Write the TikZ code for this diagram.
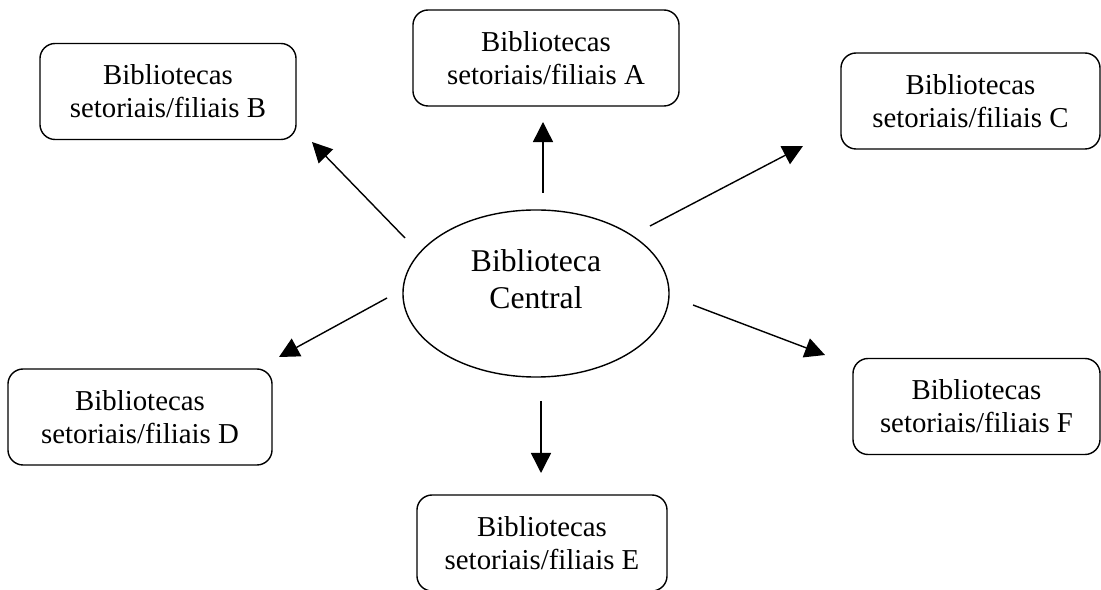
\documentclass[tikz,border=0pt]{standalone}
\usepackage{fontspec}
\setmainfont{Liberation Serif}
\usepackage{tikz}
\usetikzlibrary{shapes.geometric}
\usetikzlibrary{arrows.meta}
\usetikzlibrary{calc}

\tikzset{
  filial/.style={draw, line width=1pt, rounded corners=0.38cm, align=center,
    minimum height=2.4cm, inner sep=0pt,
    font=\fontsize{20.5pt}{23.5pt}\selectfont},
  arr/.style={line width=1pt, -{Triangle[length=0.5cm,width=0.5cm]}}
}

\begin{document}
\begin{tikzpicture}[x=0.025cm,y=-0.025cm]
\useasboundingbox (0,0) rectangle (1101,590);
% centre
  \node (central) [draw, ellipse, line width=1pt, minimum width=6.65cm, minimum height=4.175cm, inner sep=0pt] at (536,293.5) {};
  \node (centraltext) [align=center, font=\fontsize{22.5pt}{26.3pt}\selectfont] at ($(central)+(0,-14)$) {Biblioteca\\Central};
% branch libraries
  \node (a) [filial, minimum width=6.65cm] at (546,58) {Bibliotecas\\setoriais/filiais A};
  \node (b) [filial, minimum width=6.4cm] at (168,91.5) {Bibliotecas\\setoriais/filiais B};
  \node (c) [filial, minimum width=6.475cm] at (970.5,101) {Bibliotecas\\setoriais/filiais C};
  \node (d) [filial, minimum width=6.6cm] at (140,417) {Bibliotecas\\setoriais/filiais D};
  \node (e) [filial, minimum width=6.25cm] at (542,543) {Bibliotecas\\setoriais/filiais E};
  \node (f) [filial, minimum width=6.175cm] at (976.5,406.5) {Bibliotecas\\setoriais/filiais F};
% arrows
\draw [arr] ($(central)+(7,-100.5)$) -- ($(a)+(-3,64)$);
\draw [arr] ($(central)+(-131,-55.5)$) -- ($(b)+(144,50.5)$);
\draw [arr] ($(central)+(114,-67.5)$) -- ($(c)+(-167.5,45)$);
\draw [arr] ($(central)+(-149,4.5)$) -- ($(d)+(139,-60)$);
\draw [arr] ($(central)+(5,107.5)$) -- ($(e)+(-1,-70)$);
\draw [arr] ($(central)+(157,11.5)$) -- ($(f)+(-151.5,-51.5)$);
\end{tikzpicture}
\end{document}
